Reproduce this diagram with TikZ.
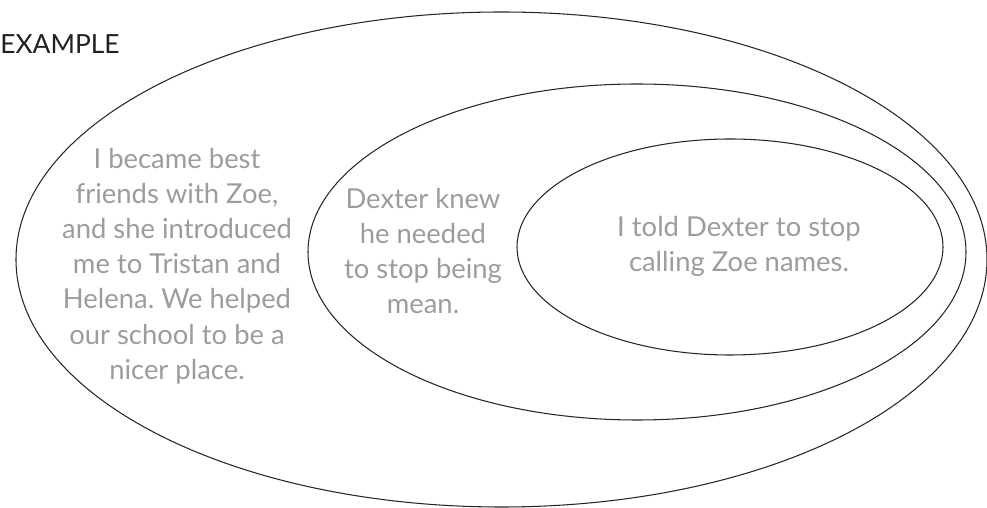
\documentclass[tikz,border=0pt]{standalone}
\usepackage{fontspec}
\setmainfont{Lato}
\frenchspacing
\definecolor{txtgray}{HTML}{9C9CA0}
\definecolor{headgray}{HTML}{231F20}
\tikzset{
  ring/.style={draw=black!85, line width=0.6pt},
  story/.style={align=center, text=txtgray, inner sep=0pt, font=\fontsize{15.6}{20}\selectfont}
}
\begin{document}
\begin{tikzpicture}[scale=1]
\useasboundingbox (0,0) rectangle (19.74,10.16);
\draw[ring] (10.03,4.97) ellipse [x radius=9.71, y radius=4.95];
\draw[ring] (12.74,5.12) ellipse [x radius=6.58, y radius=3.36];
\draw[ring] (14.60,5.22) ellipse [x radius=4.26, y radius=2.16];

\node[anchor=west, inner sep=0pt, text=headgray, font=\fontsize{15}{18}\selectfont] (title) at (0,9.27) {EXAMPLE};

\node[story] (outer) at (3.54,4.84) {I became best\\friends with Zoe,\\and she introduced\\me to Tristan and\\Helena. We helped\\our school to be a\\nicer place.};
\node[story] (middle) at (8.46,5.14) {Dexter knew\\he needed\\to stop being\\mean.};
\node[story] (inner) at (14.78,5.23) {I told Dexter to stop\\calling Zoe names.};
\end{tikzpicture}
\end{document}
